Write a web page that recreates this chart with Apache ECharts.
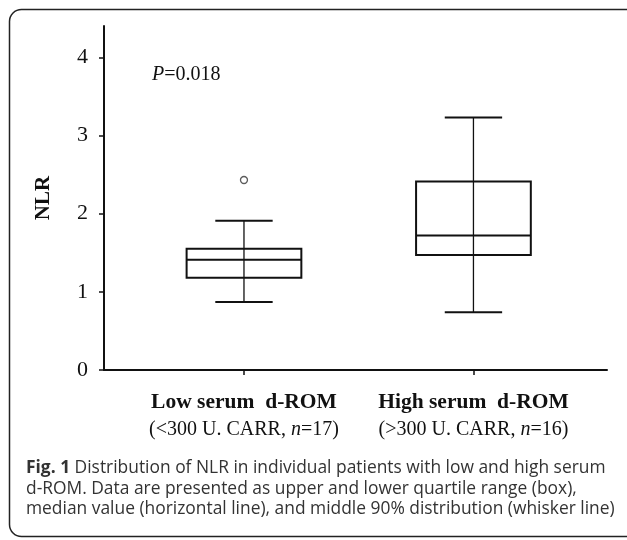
<!DOCTYPE html>
<html>
<head>
<meta charset="utf-8">
<script src="https://cdn.jsdelivr.net/npm/echarts@6/dist/echarts.min.js"></script>
<style>html,body{margin:0;padding:0;background:#fff;}#c{width:627px;height:540px;}</style>
</head>
<body>
<div id="c"></div>
<script>
// ---- data ----
var categories = ['Low serum  d-ROM', 'High serum  d-ROM'];
var subLabelPre = ['(<300 U. CARR, ', '(>300 U. CARR, '];
var subLabelN = ['=17)', '=16)'];
var positions = [1, 2];
var whiskerLow = [0.87, 0.74];
var q1 = [1.18, 1.47];
var median = [1.41, 1.72];
var q3 = [1.55, 2.41];
var whiskerHigh = [1.91, 3.23];
var outliers = [[1, 2.43]];
var yTicks = [0, 1, 2, 3, 4];
var pText = '0.018';

var serif = "'Liberation Serif', 'Times New Roman', serif";
var boxData = positions.map(function (p, i) {
  return [p, whiskerLow[i], q1[i], median[i], q3[i], whiskerHigh[i]];
});

var chart = echarts.init(document.getElementById('c'));
chart.setOption({
  animation: false,
  backgroundColor: '#fff',
  title: [{
    text: '{i|P}{r|=' + pText + '}',
    left: 152, top: 65, padding: 0,
    textStyle: {
      fontWeight: 'normal',
      rich: {
        i: {fontFamily: serif, fontStyle: 'italic', fontWeight: 'normal', fontSize: 20, color: '#111'},
        r: {fontFamily: serif, fontWeight: 'normal', fontSize: 20, color: '#111'}
      }
    }
  }, {
    text: '{b|Fig. 1} Distribution of NLR in individual patients with low and high serum\nd-ROM. Data are presented as upper and lower quartile range (box),\nmedian value (horizontal line), and middle 90% distribution (whisker line)',
    left: 26, top: 458, padding: 0,
    textStyle: {
      fontFamily: "'Open Sans', sans-serif", fontSize: 17.4, fontWeight: 'normal', color: '#333', lineHeight: 20.5,
      rich: {
        b: {fontFamily: "'Open Sans', sans-serif", fontSize: 17.4, fontWeight: 'bold', color: '#333', lineHeight: 20.5}
      }
    }
  }],
  graphic: [{
    type: 'rect',
    shape: {x: 9.5, y: 9.5, width: 640, height: 527, r: 12},
    style: {fill: 'none', stroke: '#222', lineWidth: 1.5},
    silent: true
  }],
  grid: {left: 104, right: 20, top: 26, bottom: 170},
  xAxis: {
    type: 'value', min: 0.39, max: 2.582,
    splitLine: {show: false},
    axisLine: {show: true, onZero: false, lineStyle: {color: '#111', width: 2}},
    axisTick: {show: true, customValues: positions, length: 5, lineStyle: {color: '#111', width: 1.5}},
    axisLabel: {
      show: true, customValues: positions, margin: 19,
      formatter: function (v) {
        var i = positions.indexOf(v);
        if (i < 0) return '';
        return '{b|' + categories[i] + '}\n{r|' + subLabelPre[i] + '}{i|n}{r|' + subLabelN[i] + '}';
      },
      rich: {
        b: {fontFamily: serif, fontWeight: 'bold', fontSize: 21.5, color: '#111', lineHeight: 27},
        r: {fontFamily: serif, fontSize: 20, color: '#111', lineHeight: 27},
        i: {fontFamily: serif, fontStyle: 'italic', fontSize: 20, color: '#111', lineHeight: 27}
      }
    }
  },
  yAxis: {
    type: 'value', min: 0, max: 4.4,
    name: 'NLR', nameLocation: 'middle', nameGap: 50, nameRotate: 90,
    nameTextStyle: {fontFamily: serif, fontWeight: 'bold', fontSize: 21, color: '#111'},
    splitLine: {show: false},
    axisLine: {show: true, lineStyle: {color: '#111', width: 2}},
    axisTick: {show: true, customValues: yTicks, length: 5, lineStyle: {color: '#111', width: 1.5}},
    axisLabel: {show: true, customValues: yTicks, margin: 16, fontFamily: serif, fontSize: 22, color: '#111'}
  },
  series: [{
    type: 'custom',
    data: boxData,
    encode: {x: 0, y: [1, 2, 3, 4, 5]},
    renderItem: function (params, api) {
      var x = api.value(0);
      var lo = api.coord([x, api.value(1)]);
      var b1 = api.coord([x, api.value(2)]);
      var md = api.coord([x, api.value(3)]);
      var b3 = api.coord([x, api.value(4)]);
      var hi = api.coord([x, api.value(5)]);
      var halfBox = api.size([0.25, 0])[0];
      var halfCap = api.size([0.125, 0])[0];
      var cx = lo[0];
      var thick = {stroke: '#111', lineWidth: 2, fill: 'none'};
      return {
        type: 'group',
        children: [
          {type: 'line', shape: {x1: cx, y1: hi[1], x2: cx, y2: lo[1]}, style: {stroke: '#111', lineWidth: 1.3}},
          {type: 'rect', shape: {x: cx - halfBox, y: b3[1], width: 2 * halfBox, height: b1[1] - b3[1]}, style: thick},
          {type: 'line', shape: {x1: cx - halfBox, y1: md[1], x2: cx + halfBox, y2: md[1]}, style: thick},
          {type: 'line', shape: {x1: cx - halfCap, y1: hi[1], x2: cx + halfCap, y2: hi[1]}, style: thick},
          {type: 'line', shape: {x1: cx - halfCap, y1: lo[1], x2: cx + halfCap, y2: lo[1]}, style: thick}
        ]
      };
    }
  }, {
    type: 'scatter',
    data: outliers,
    symbol: 'circle', symbolSize: 7,
    itemStyle: {color: '#fff', borderColor: '#333', borderWidth: 1.3}
  }]
});
</script>
</body>
</html>
